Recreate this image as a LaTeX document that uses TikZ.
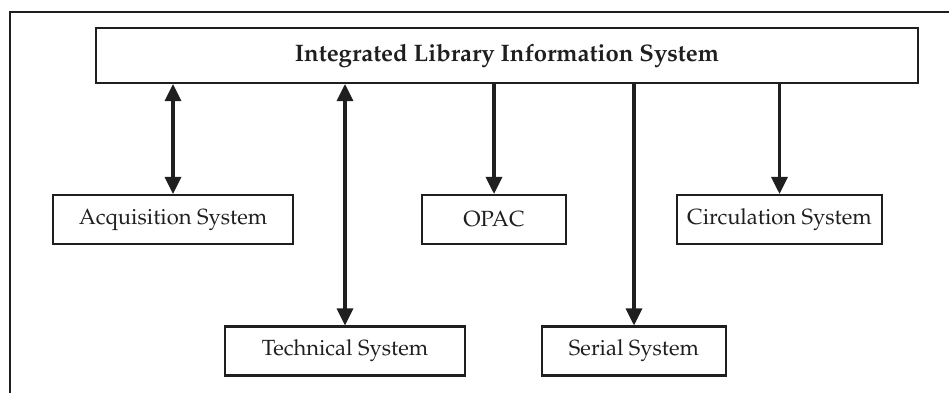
\documentclass[tikz,border=0pt]{standalone}
\usepackage[T1]{fontenc}
\usepackage{mathpazo}
\usetikzlibrary{arrows, arrows.meta}
\usetikzlibrary{positioning}
\usepackage{xcolor}

\colorlet{ink}{black!88}

\tikzset{
  sysbox/.style={draw=ink, text=ink, line width=1.2pt, minimum height=0.98cm, inner sep=0pt,
    font=\fontsize{12.5}{15}\selectfont},
  link/.style={draw=ink, line width=1.8pt, -{Triangle[length=0.34cm,width=0.32cm]}},
  dlink/.style={draw=ink, line width=1.8pt,
    {Triangle[length=0.34cm,width=0.32cm]}-{Triangle[length=0.34cm,width=0.32cm]}},
}

\begin{document}
\begin{tikzpicture}[x=0.02cm, y=-0.02cm]
\useasboundingbox (0,0) rectangle (949,392);

% outer frame, cut by the page edge
\begin{scope}
\clip (0,0) rectangle (949,392);
\draw[ink, line width=1.2pt] (10,420) -- (10,12) -- (980,12);
\end{scope}

\node[sysbox, minimum width=16.44cm, minimum height=1.1cm, font=\fontsize{13.6}{16}\selectfont\bfseries]
  (ils) at (507,55.5) {Integrated Library Information System};

\node[sysbox, minimum width=4.8cm]  (acq)    at (173,219.5)   {Acquisition System};
\node[sysbox, minimum width=2.88cm] (opac)   at (494,219.5)   {OPAC};
\node[sysbox, minimum width=4.1cm]  (circ)   at (779.5,219.5) {Circulation System};
\node[sysbox, minimum width=4.8cm]  (tech)   at (345,351)     {Technical System};
\node[sysbox, minimum width=3.68cm] (serial) at (634,351)     {Serial System};

\draw[dlink] (ils.south -| acq.north)  -- (acq.north);
\draw[dlink] (ils.south -| tech.north) -- (tech.north);
\draw[link]  (ils.south -| opac.north) -- (opac.north);
\draw[link]  (ils.south -| serial.north) -- (serial.north);
\draw[link]  (ils.south -| circ.north) -- (circ.north);
\end{tikzpicture}
\end{document}
